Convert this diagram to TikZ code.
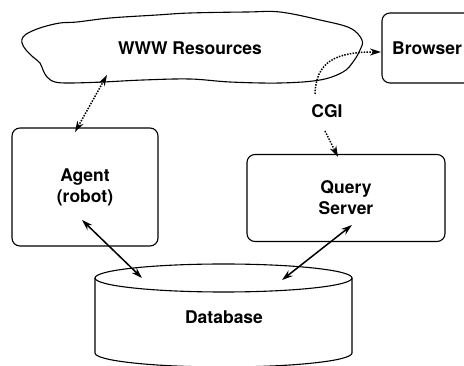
\documentclass[tikz,border=0pt]{standalone}
\usepackage{fontspec}
\setmainfont{TeX Gyre Heros}
\usetikzlibrary{arrows.meta}
\tikzset{
  box/.style={draw,line width=1.1pt,rounded corners=8pt,align=center},
  txt/.style={font=\fontsize{17.5}{21}\selectfont\bfseries,align=center},
  link/.style={line width=1.5pt},
  dotlink/.style={line width=1.5pt,dash pattern=on 1.5pt off 1.3pt},
}
\begin{document}
\begin{tikzpicture}[x=1pt,y=1pt,>={Stealth[length=11pt,width=7pt]}]
\useasboundingbox (0,0) rectangle (464,-366);
\draw[line width=1.1pt] plot[smooth cycle,tension=0.6] coordinates {(22,-43) (23,-37) (30,-32) (43,-27) (60,-23) (77,-22) (110,-18) (157,-15) (190,-13) (247,-12) (280,-12) (320,-20) (350,-28) (362,-40) (360,-50) (353,-62) (343,-72) (320,-80) (280,-83) (230,-82) (190,-79) (143,-80) (103,-82) (70,-83) (55,-82) (47,-77) (43,-70) (40,-63) (33,-57) (26,-50)};
\node[txt] (www) at (190,-48) {WWW Resources};
\node[box,txt,minimum width=90,minimum height=70] (browser) at (427,-48) {Browser};
\node[box,txt,minimum width=146,minimum height=118] (agent) at (85,-187) {Agent\\(robot)};
\node[box,txt,minimum width=198,minimum height=87] (query) at (346,-198) {Query\\Server};
\node[txt] (cgi) at (327,-111) {CGI};
\draw[line width=1.1pt] (223.5,-278) ellipse[x radius=128.5,y radius=14];
\draw[line width=1.1pt] (95,-278) -- (95,-353) arc[start angle=180,end angle=360,x radius=128.5,y radius=14] -- (352,-278);
\node[txt] (db) at (224,-317) {Database};
\coordinate (wwwA) at (107,-75); \coordinate (agentA) at (75,-132);
\coordinate (wwwB) at (315,-94); \coordinate (browserA) at (381,-52);
\coordinate (cgiB) at (325,-131); \coordinate (queryA) at (338,-157);
\coordinate (agentB) at (82,-220); \coordinate (dbA) at (142,-278);
\coordinate (queryB) at (352,-225); \coordinate (dbB) at (282,-280);
\draw[dotlink,<->] (wwwA) -- (agentA);
\draw[dotlink,->] (wwwB) .. controls (316,-62) and (335,-52) .. (browserA);
\draw[dotlink,->] (cgiB) -- (queryA);
\draw[link,<->] (agentB) -- (dbA);
\draw[link,<->] (queryB) -- (dbB);
\end{tikzpicture}
\end{document}
